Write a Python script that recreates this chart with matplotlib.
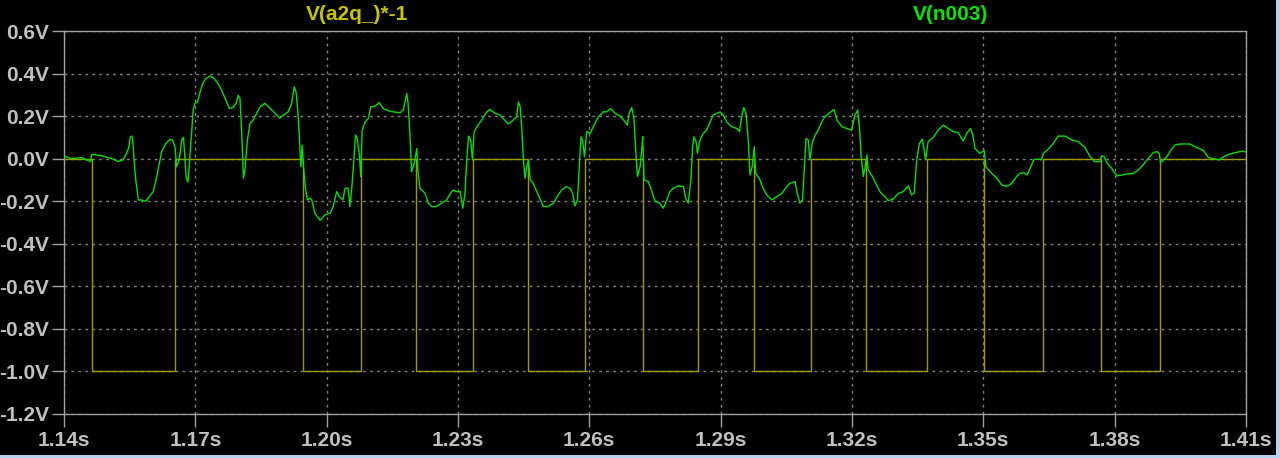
import numpy as np
import matplotlib.pyplot as plt
from matplotlib.patches import Rectangle

# V(a2q_)*-1 : square wave, edge times (ms) and level after each edge
sq_edges_ms = [1140.0, 1146.3, 1165.4, 1194.6, 1207.9, 1220.5, 1233.5, 1246.1, 1259.0,
               1272.3, 1284.8, 1297.7, 1310.6, 1323.2, 1337.1, 1350.2, 1363.6, 1376.9,
               1390.3, 1410.0]
sq_levels = [0, -1, 0, -1, 0, -1, 0, -1, 0, -1, 0, -1, 0, -1, 0, -1, 0, -1, 0, 0]

# V(n003) (ms, volts)
n003_ms = [
    1140.0, 1141.0, 1141.8, 1144.0, 1145.2, 1146.1, 1146.3, 1148.6, 1150.1, 1151.3,
    1152.4, 1153.5, 1154.3, 1154.8, 1155.1, 1155.5, 1155.7, 1156.0, 1156.4, 1157.0,
    1157.7, 1158.7, 1159.5, 1160.4, 1161.2, 1162.3, 1163.3, 1164.2, 1164.8, 1165.4,
    1165.7, 1166.3, 1166.9, 1167.3, 1167.5, 1167.9, 1168.3, 1168.6, 1168.8, 1169.2,
    1169.5, 1169.9, 1170.5, 1171.1, 1171.7, 1172.4, 1173.4, 1174.1, 1175.2, 1176.0,
    1176.8, 1177.8, 1178.5, 1179.3, 1179.8, 1180.2, 1180.6, 1181.0, 1181.3, 1181.9,
    1182.5, 1183.2, 1184.0, 1184.8, 1185.9, 1187.1, 1188.2, 1189.3, 1190.1, 1191.2,
    1192.0, 1192.6, 1193.0, 1193.4, 1193.8, 1194.1, 1194.4, 1194.7, 1195.1, 1195.6,
    1196.2, 1196.6, 1197.3, 1198.5, 1199.6, 1200.8, 1201.5, 1202.3, 1202.9, 1203.7,
    1204.2, 1204.9, 1205.3, 1205.7, 1206.1, 1206.6, 1207.0, 1207.5, 1207.8, 1208.1,
    1208.8, 1209.5, 1210.1, 1211.0, 1212.0, 1212.9, 1214.1, 1215.2, 1216.8, 1217.5,
    1218.3, 1218.6, 1219.0, 1219.4, 1220.0, 1220.6, 1220.9, 1221.3, 1222.5, 1223.2,
    1224.0, 1225.1, 1226.3, 1227.4, 1228.3, 1228.9, 1229.7, 1230.5, 1231.1, 1231.6,
    1232.0, 1232.4, 1232.9, 1233.3, 1233.7, 1234.3, 1235.4, 1236.6, 1237.3, 1238.5,
    1239.6, 1240.7, 1241.5, 1242.6, 1243.4, 1243.8, 1244.2, 1244.6, 1244.9, 1245.3,
    1245.7, 1246.1, 1246.5, 1247.2, 1248.0, 1248.7, 1249.5, 1250.6, 1251.8, 1252.9,
    1253.7, 1254.7, 1255.6, 1256.2, 1256.7, 1257.3, 1257.7, 1258.1, 1258.5, 1258.9,
    1259.4, 1260.2, 1260.9, 1262.1, 1263.2, 1264.0, 1264.9, 1265.9, 1267.0, 1268.2,
    1268.7, 1269.1, 1269.7, 1270.2, 1270.6, 1271.0, 1271.6, 1272.0, 1272.2, 1272.5,
    1273.5, 1274.3, 1275.0, 1276.1, 1276.9, 1277.7, 1278.4, 1279.2, 1280.3, 1281.5,
    1282.0, 1282.6, 1283.2, 1283.6, 1283.9, 1284.4, 1284.7, 1285.3, 1286.0, 1286.8,
    1287.6, 1288.3, 1289.1, 1289.9, 1290.6, 1291.4, 1292.5, 1293.7, 1294.3, 1294.8,
    1295.3, 1295.8, 1296.3, 1296.7, 1297.2, 1297.7, 1298.0, 1299.0, 1299.7, 1300.5,
    1301.7, 1302.8, 1304.0, 1305.1, 1305.8, 1307.0, 1307.5, 1308.1, 1308.7, 1309.1,
    1309.5, 1310.0, 1310.4, 1310.9, 1311.6, 1312.3, 1313.1, 1313.8, 1314.8, 1315.9,
    1316.6, 1317.7, 1318.8, 1319.9, 1320.7, 1321.3, 1321.7, 1322.1, 1322.6, 1323.0,
    1323.4, 1323.7, 1324.7, 1325.6, 1326.4, 1327.5, 1328.3, 1329.4, 1330.6, 1331.7,
    1332.9, 1333.6, 1334.2, 1334.8, 1335.4, 1336.1, 1336.5, 1336.8, 1337.4, 1338.6,
    1339.7, 1340.9, 1342.0, 1343.1, 1344.3, 1345.4, 1346.2, 1347.1, 1347.6, 1348.1,
    1349.2, 1350.2, 1350.6, 1351.9, 1353.1, 1354.2, 1355.3, 1356.5, 1357.6, 1358.4,
    1359.3, 1360.0, 1360.7, 1361.6, 1362.6, 1363.3, 1363.7, 1364.8, 1366.0, 1367.1,
    1368.7, 1370.2, 1371.7, 1373.2, 1374.4, 1375.5, 1376.7, 1377.0, 1377.6, 1378.3,
    1379.3, 1380.5, 1381.6, 1382.8, 1384.3, 1385.4, 1386.5, 1387.7, 1388.8, 1389.7,
    1390.2, 1390.5, 1391.9, 1393.0, 1393.8, 1394.9, 1397.2, 1398.7, 1400.3, 1401.4,
    1402.5, 1403.9, 1405.2, 1406.4, 1407.9, 1409.3, 1410.0,
]
n003_v = [
    0.010, 0.006, 0.000, 0.005, -0.006, -0.014, 0.020, 0.014, 0.005, -0.003,
    -0.014, -0.006, 0.025, 0.053, 0.100, 0.106, 0.088, -0.006, -0.100, -0.194,
    -0.194, -0.200, -0.178, -0.155, -0.084, 0.033, 0.072, 0.090, 0.088, 0.048,
    -0.038, -0.006, 0.088, 0.100, 0.040, -0.084, -0.110, -0.038, 0.025, 0.134,
    0.228, 0.260, 0.267, 0.314, 0.353, 0.377, 0.388, 0.381, 0.353, 0.322,
    0.283, 0.236, 0.239, 0.260, 0.298, 0.283, 0.119, -0.092, -0.053, 0.088,
    0.166, 0.181, 0.213, 0.244, 0.260, 0.236, 0.213, 0.190, 0.205, 0.220,
    0.260, 0.338, 0.314, 0.228, 0.088, -0.038, 0.064, -0.038, -0.131, -0.194,
    -0.186, -0.194, -0.256, -0.290, -0.264, -0.256, -0.225, -0.155, -0.178, -0.194,
    -0.139, -0.139, -0.225, -0.147, -0.038, 0.111, 0.095, 0.009, -0.084, 0.134,
    0.173, 0.189, 0.244, 0.247, 0.263, 0.236, 0.225, 0.220, 0.216, 0.228,
    0.306, 0.260, 0.119, -0.061, -0.022, 0.048, -0.069, -0.139, -0.163, -0.209,
    -0.225, -0.225, -0.209, -0.194, -0.163, -0.147, -0.155, -0.155, -0.233, -0.163,
    -0.006, 0.106, 0.088, -0.006, 0.127, 0.150, 0.181, 0.220, 0.231, 0.213,
    0.205, 0.181, 0.163, 0.181, 0.197, 0.267, 0.244, 0.134, 0.009, -0.092,
    -0.038, -0.006, -0.100, -0.116, -0.155, -0.186, -0.225, -0.225, -0.209, -0.170,
    -0.147, -0.131, -0.139, -0.163, -0.222, -0.194, -0.038, 0.103, 0.080, 0.009,
    0.127, 0.119, 0.150, 0.197, 0.220, 0.220, 0.236, 0.213, 0.200, 0.173,
    0.158, 0.213, 0.240, 0.189, 0.040, -0.084, -0.038, 0.048, 0.103, -0.100,
    -0.108, -0.155, -0.200, -0.209, -0.233, -0.194, -0.155, -0.139, -0.128, -0.131,
    -0.186, -0.209, -0.100, 0.056, 0.103, 0.080, 0.025, 0.088, 0.119, 0.134,
    0.173, 0.205, 0.213, 0.220, 0.205, 0.173, 0.150, 0.142, 0.127, 0.197,
    0.240, 0.213, 0.088, -0.077, -0.038, 0.056, -0.069, -0.100, -0.139, -0.170,
    -0.194, -0.178, -0.163, -0.131, -0.116, -0.108, -0.163, -0.209, -0.194, -0.053,
    0.095, 0.088, -0.006, 0.072, 0.111, 0.134, 0.173, 0.197, 0.213, 0.231,
    0.181, 0.150, 0.142, 0.134, 0.205, 0.228, 0.150, 0.009, -0.084, -0.038,
    0.017, -0.053, -0.084, -0.123, -0.155, -0.178, -0.197, -0.190, -0.163, -0.155,
    -0.128, -0.170, -0.163, -0.006, 0.072, 0.092, 0.040, -0.006, 0.080, 0.100,
    0.134, 0.158, 0.142, 0.127, 0.122, 0.083, 0.119, 0.142, 0.111, 0.048,
    0.025, 0.038, -0.038, -0.069, -0.092, -0.123, -0.131, -0.116, -0.084, -0.069,
    -0.066, -0.077, -0.045, -0.003, -0.003, -0.006, 0.025, 0.044, 0.072, 0.106,
    0.106, 0.088, 0.080, 0.053, 0.009, -0.014, -0.014, 0.013, 0.009, -0.022,
    -0.045, -0.081, -0.077, -0.072, -0.069, -0.053, -0.030, 0.002, 0.028, 0.033,
    0.025, -0.019, 0.009, 0.044, 0.064, 0.069, 0.069, 0.053, 0.038, 0.006,
    0.000, -0.006, 0.013, 0.022, 0.030, 0.036, 0.031,
]

x_ticks = [1.14, 1.17, 1.20, 1.23, 1.26, 1.29, 1.32, 1.35, 1.38, 1.41]
y_ticks = [0.6, 0.4, 0.2, 0.0, -0.2, -0.4, -0.6, -0.8, -1.0, -1.2]

font = 'Liberation Sans'
label_col = '#c0c0c0'
frame_col = '#a0a0a0'
fsize = 15

fig = plt.figure(figsize=(12.8, 4.58), dpi=100, facecolor='black')
ax = fig.add_axes([0.05, 0.0961, 0.9234, 0.8362])
ax.set_facecolor('black')

ax.step(np.array(sq_edges_ms) / 1000, sq_levels, where='post', color='#a09a00', lw=1.0, zorder=3)
ax.plot(np.array(n003_ms) / 1000, n003_v, color='#00e000', lw=1.0, zorder=4)

ax.set_xlim(1.14, 1.41)
ax.set_ylim(-1.2, 0.6)
ax.set_xticks(x_ticks)
ax.set_xticklabels([f'{t:.2f}s' for t in x_ticks])
ax.set_yticks(y_ticks)
ax.set_yticklabels([f'{v:.1f}V' for v in y_ticks])

ax.grid(True, color='#808080', linestyle=(0, (2, 3)), lw=1.0, zorder=1)
ax.tick_params(colors=frame_col, length=9, width=1)
ax.tick_params(axis='x', pad=3)
ax.tick_params(axis='y', pad=2)
for lbl in ax.get_xticklabels() + ax.get_yticklabels():
    lbl.set_color(label_col)
    lbl.set_fontfamily(font)
    lbl.set_fontweight('bold')
    lbl.set_fontsize(fsize)
for sp in ax.spines.values():
    sp.set_color(frame_col)
    sp.set_linewidth(1.0)

fig.text(357 / 1280, 1 - 15 / 458, 'V(a2q_)*-1', color='#c8c400', fontsize=fsize,
         fontweight='bold', family=font, ha='center', va='center')
fig.text(951 / 1280, 1 - 15 / 458, 'V(n003)', color='#00e800', fontsize=fsize,
         fontweight='bold', family=font, ha='center', va='center')

# window border strips
fig.patches.append(Rectangle((1276 / 1280, 0), 4 / 1280, 1, transform=fig.transFigure,
                             facecolor='#b9d1ea', edgecolor='none'))
fig.patches.append(Rectangle((0, 0), 1, 3 / 458, transform=fig.transFigure,
                             facecolor='#b9d1ea', edgecolor='none'))

plt.savefig('out.png', dpi=100, facecolor='black')
